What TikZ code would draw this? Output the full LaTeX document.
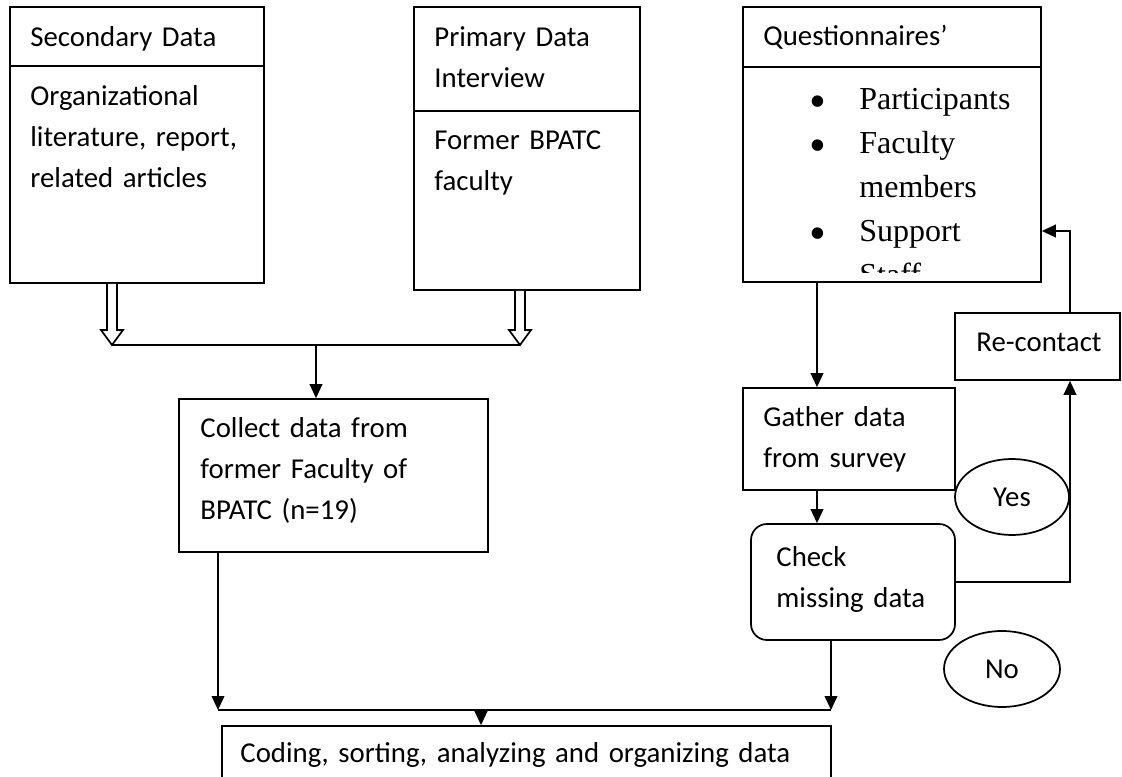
\documentclass[tikz,border=0pt]{standalone}
\usepackage{fontspec}
\setmainfont{Carlito}
\newfontfamily\timesfont{Liberation Serif}
\usetikzlibrary{arrows.meta,shapes.geometric,fit,calc,positioning}

% open (hollow) block arrow between two points
\newcommand{\hollowarrow}[2]{%
  \draw[line, fill=white] ($(#1)+(-5,0)$) -- ($(#2)+(-5,-15)$) -- ($(#2)+(-11,-15)$)
    -- (#2) -- ($(#2)+(11,-15)$) -- ($(#2)+(5,-15)$) -- ($(#1)+(5,0)$);
}
\newcommand{\bigbullet}{{\fontsize{36}{33}\selectfont •}}

\tikzset{
  box/.style={draw, line width=1.3pt, inner sep=0pt},
  txt/.style={anchor=base west, align=left, text width=180pt, inner sep=0pt, font=\fontsize{21.6}{30.75}\selectfont},
  bul/.style={anchor=base west, align=left, text width=120pt, inner sep=0pt, font=\timesfont\fontsize{24}{33}\selectfont},
  oval/.style={draw, ellipse, line width=1.3pt, inner sep=0pt, font=\fontsize{21.6}{24}\selectfont},
  line/.style={line width=1.3pt},
  arr/.style={line, -{Triangle[length=10.5pt,width=9.5pt]}}
}

\begin{document}
\begin{tikzpicture}[x=0.75pt, y=-0.75pt]
    \useasboundingbox (0,0) rectangle (1122,777);

    % boxes
    \node[box, fit={(10,7) (264,66)}] (sechead) {};
    \node[box, fit={(10,66) (264,283)}] (secbody) {};
    \node[box, fit={(414,7) (640,111)}] (prihead) {};
    \node[box, fit={(414,111) (640,290)}] (pribody) {};
    \node[box, fit={(743,7) (1041,67)}] (qhead) {};
    \node[box, fit={(743,67) (1041,282)}] (qbody) {};
    \node[box, fit={(179,399) (488,552)}] (collect) {};
    \node[box, fit={(743,388) (955,490)}] (gather) {};
    \node[box, rounded corners=12pt, fit={(751,524) (955,640)}] (check) {};
    \node[box, fit={(955,313) (1120,380)}] (recontact) {};
    \node[box, fit={(222,726) (831,800)}] (final) {};

    % texts
    \node[txt] (sechtxt) at ($(sechead.north west)+(21,40)$) {Secondary Data};
    \node[txt] (secbtxt) at ($(secbody.north west)+(21,40)$) {Organizational\\literature, report,\\related articles};
    \node[txt] (prihtxt) at ($(prihead.north west)+(21,40)$) {Primary Data\\Interview};
    \node[txt] (pribtxt) at ($(pribody.north west)+(21,39)$) {Former BPATC\\faculty};
    \node[txt] (qhtxt) at ($(qhead.north west)+(21,39)$) {Questionnaires’};
    \begin{scope}
        \clip (qbody.north west) rectangle ($(qbody.south east)+(0,-10)$);
        \node[bul, text width=20pt] (qbullets) at ($(qbody.north west)+(67,51)$) {\bigbullet\\\bigbullet\\\mbox{}\\\bigbullet};
        \node[bul] (qitems) at ($(qbody.north west)+(117,43)$) {Participants\\Faculty\\members\\Support\\Staff};
    \end{scope}
    \node[txt] (collecttxt) at ($(collect.north west)+(22,39)$) {Collect data from\\former Faculty of\\BPATC (n=19)};
    \node[txt] (gathertxt) at ($(gather.north west)+(21,39)$) {Gather data\\from survey};
    \node[txt] (checktxt) at ($(check.north west)+(26,43)$) {Check\\missing data};
    \node[txt, text width=110pt] (recontacttxt) at ($(recontact.north west)+(22,39)$) {Re-contact};
    \node[txt, text width=440pt] (finaltxt) at ($(final.north west)+(19,37)$) {Coding, sorting, analyzing and organizing data};

    \node[oval, minimum width=85.5pt, minimum height=57pt] (yes) at (1012,497) {Yes};
    \node[oval, minimum width=87pt, minimum height=57pt] (no) at (1002,669) {No};

    % columns and rows for the connectors
    \coordinate (secin) at (112,345);
    \coordinate (priin) at (520,345);
    \coordinate (coljoin) at (316,0);
    \coordinate (colq) at (817,0);
    \coordinate (colcheck) at (831,0);
    \coordinate (colloop) at (1070,0);
    \coordinate (colcollect) at (218,0);
    \coordinate (colfinal) at (481,0);
    \coordinate (loopy) at (0,231);
    \coordinate (bus) at (0,710);

    % left branch
    \hollowarrow{secbody.south -| secin}{secin}
    \hollowarrow{pribody.south -| priin}{priin}
    \draw[line] (secin) -- (priin);
    \draw[arr] (secin -| coljoin) -- (collect.north -| coljoin);

    % survey branch
    \draw[arr] (qbody.south -| colq) -- (gather.north -| colq);
    \draw[arr] (gather.south -| colq) -- (check.north -| colq);
    \draw[arr] (check.east) -| (recontact.south -| colloop);
    \draw[arr] (recontact.north -| colloop) |- (qbody.east |- loopy);

    % into the final step
    \draw[arr] (collect.south -| colcollect) -- (bus -| colcollect);
    \draw[arr] (check.south -| colcheck) -- (bus -| colcheck);
    \draw[line] (bus -| colcollect) -- (bus -| colcheck);
    \draw[arr] (bus -| colfinal) -- (final.north -| colfinal);
\end{tikzpicture}
\end{document}
